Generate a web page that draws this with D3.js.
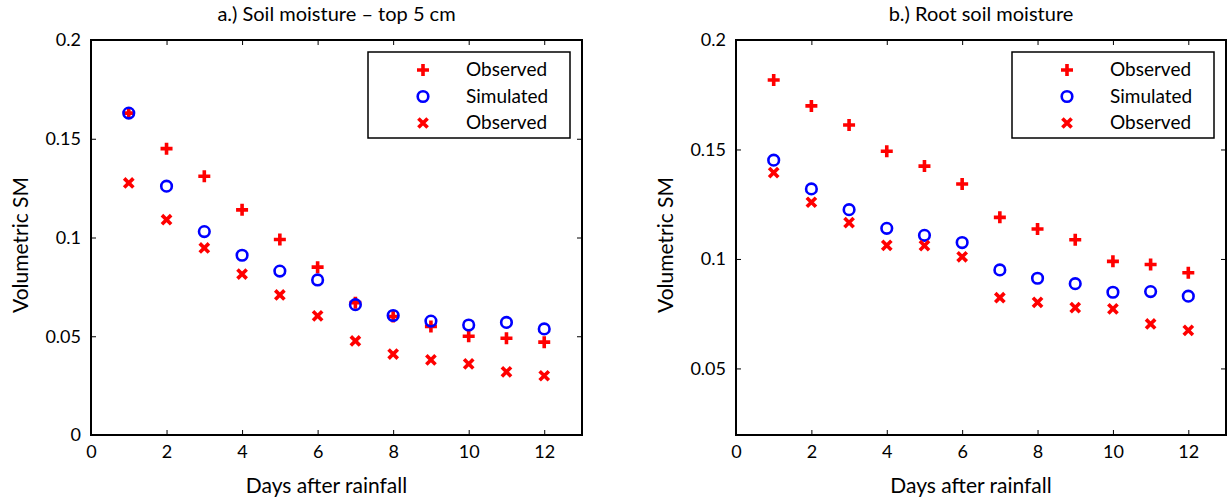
<!DOCTYPE html>
<html>
<head>
<meta charset="utf-8">
<script src="https://cdnjs.cloudflare.com/ajax/libs/d3/7.8.5/d3.min.js"></script>
<style>
  body { margin: 0; background: #fff; }
  text { font-family: Lato, "Open Sans", sans-serif; fill: #000; }
</style>
</head>
<body>
<div class="chart"></div>
<script>
const days = [1, 2, 3, 4, 5, 6, 7, 8, 9, 10, 11, 12];

// panel a.) top 5 cm
const topObsPlus = [0.163, 0.145, 0.131, 0.114, 0.099, 0.085, 0.067, 0.060, 0.055, 0.050, 0.049, 0.047];
const topSim = [0.163, 0.126, 0.103, 0.091, 0.083, 0.0785, 0.066, 0.0605, 0.0577, 0.0557, 0.057, 0.0537];
const topObsCross = [0.1276, 0.109, 0.0947, 0.0815, 0.0709, 0.0603, 0.0476, 0.041, 0.038, 0.036, 0.032, 0.030];

// panel b.) root zone
const rootObsPlus = [0.1817, 0.1699, 0.1612, 0.1492, 0.1424, 0.1342, 0.119, 0.1137, 0.1088, 0.0989, 0.0975, 0.0937];
const rootSim = [0.1451, 0.132, 0.1225, 0.114, 0.1108, 0.1075, 0.095, 0.0912, 0.0887, 0.0848, 0.0851, 0.083];
const rootObsCross = [0.1394, 0.1259, 0.1166, 0.1062, 0.1061, 0.101, 0.0823, 0.0802, 0.0778, 0.0772, 0.0703, 0.0674];

const xTicks = [0, 2, 4, 6, 8, 10, 12];
const yTicksA = [0, 0.05, 0.1, 0.15, 0.2];
const yTicksB = [0.05, 0.1, 0.15, 0.2];
const legendLabels = ["Observed", "Simulated", "Observed"];

const width = 1231, height = 504;
const svg = d3.select(".chart").append("svg")
  .attr("width", width)
  .attr("height", height);

function plusPath(s) {
  return `M${-s},0H${s}M0,${-s}V${s}`;
}
function crossPath(s) {
  return `M${-s},${-s}L${s},${s}M${-s},${s}L${s},${-s}`;
}

function drawMarker(g, kind, x, y) {
  if (kind === "plus") {
    g.append("path")
      .attr("transform", `translate(${x},${y})`)
      .attr("d", plusPath(6))
      .attr("stroke", "#ff0000")
      .attr("stroke-width", 3.6)
      .attr("fill", "none");
  } else if (kind === "circle") {
    g.append("circle")
      .attr("cx", x)
      .attr("cy", y)
      .attr("r", 5.3)
      .attr("stroke", "#0000ff")
      .attr("stroke-width", 2.6)
      .attr("fill", "none");
  } else {
    g.append("path")
      .attr("transform", `translate(${x},${y})`)
      .attr("d", crossPath(4.6))
      .attr("stroke", "#ff0000")
      .attr("stroke-width", 3.6)
      .attr("fill", "none");
  }
}

function drawPanel(opt) {
  const x = d3.scaleLinear().domain([0, 13]).range([opt.left, opt.right]);
  const y = d3.scaleLinear().domain(opt.yDomain).range([435, 40]);
  const g = svg.append("g");

  // bottom axis
  g.append("g")
    .attr("transform", "translate(0,435)")
    .call(d3.axisBottom(x).tickValues(xTicks).tickSize(-5).tickPadding(10).tickFormat(d3.format("d")))
    .call(a => a.select(".domain").remove());
  // top ticks
  g.append("g")
    .attr("transform", "translate(0,40)")
    .call(d3.axisTop(x).tickValues(xTicks).tickSize(-5).tickFormat(""))
    .call(a => a.select(".domain").remove());
  // left axis
  g.append("g")
    .attr("transform", `translate(${opt.left},0)`)
    .call(d3.axisLeft(y).tickValues(opt.yTicks).tickSize(-5).tickPadding(10).tickFormat(d => d === 0 ? "0" : String(+d.toFixed(2))))
    .call(a => a.select(".domain").remove());
  // right ticks
  g.append("g")
    .attr("transform", `translate(${opt.right},0)`)
    .call(d3.axisRight(y).tickValues(opt.yTicks).tickSize(-5).tickFormat(""))
    .call(a => a.select(".domain").remove());

  g.selectAll(".tick line").attr("stroke", "#000").attr("stroke-width", 1);
  g.selectAll(".tick text").style("font-size", "18px").attr("fill", "#000");

  // box
  g.append("rect")
    .attr("x", opt.left)
    .attr("y", 40)
    .attr("width", opt.right - opt.left)
    .attr("height", 395)
    .attr("fill", "none")
    .attr("stroke", "#000")
    .attr("stroke-width", 2);

  // data
  days.forEach((d, i) => drawMarker(g, "plus", x(d), y(opt.plus[i])));
  days.forEach((d, i) => drawMarker(g, "circle", x(d), y(opt.sim[i])));
  days.forEach((d, i) => drawMarker(g, "cross", x(d), y(opt.cross[i])));

  // titles
  g.append("text")
    .attr("x", (opt.left + opt.right) / 2)
    .attr("y", 21)
    .attr("text-anchor", "middle")
    .style("font-size", "20px")
    .text(opt.title);
  g.append("text")
    .attr("x", (opt.left + opt.right) / 2 - 10)
    .attr("y", 493)
    .attr("text-anchor", "middle")
    .style("font-size", "21px")
    .text("Days after rainfall");
  g.append("text")
    .attr("transform", `translate(${opt.left - 63},245) rotate(-90)`)
    .attr("text-anchor", "middle")
    .style("font-size", "21px")
    .text("Volumetric SM");

  // legend
  const lx = opt.right - 214, ly = 52;
  g.append("rect")
    .attr("x", lx)
    .attr("y", ly)
    .attr("width", 202)
    .attr("height", 86)
    .attr("fill", "#fff")
    .attr("stroke", "#000")
    .attr("stroke-width", 1.5);
  const kinds = ["plus", "circle", "cross"];
  legendLabels.forEach((lab, i) => {
    const yy = ly + 18 + i * 26.5;
    drawMarker(g, kinds[i], lx + 55, yy);
    g.append("text")
      .attr("x", lx + 98)
      .attr("y", yy + 6)
      .style("font-size", "19px")
      .text(lab);
  });
}

drawPanel({
  left: 91, right: 582,
  yDomain: [0, 0.2], yTicks: yTicksA,
  plus: topObsPlus, sim: topSim, cross: topObsCross,
  title: "a.) Soil moisture \u2013 top 5 cm"
});
drawPanel({
  left: 736, right: 1226,
  yDomain: [0.0196, 0.2], yTicks: yTicksB,
  plus: rootObsPlus, sim: rootSim, cross: rootObsCross,
  title: "b.) Root soil moisture"
});
</script>
</body>
</html>
